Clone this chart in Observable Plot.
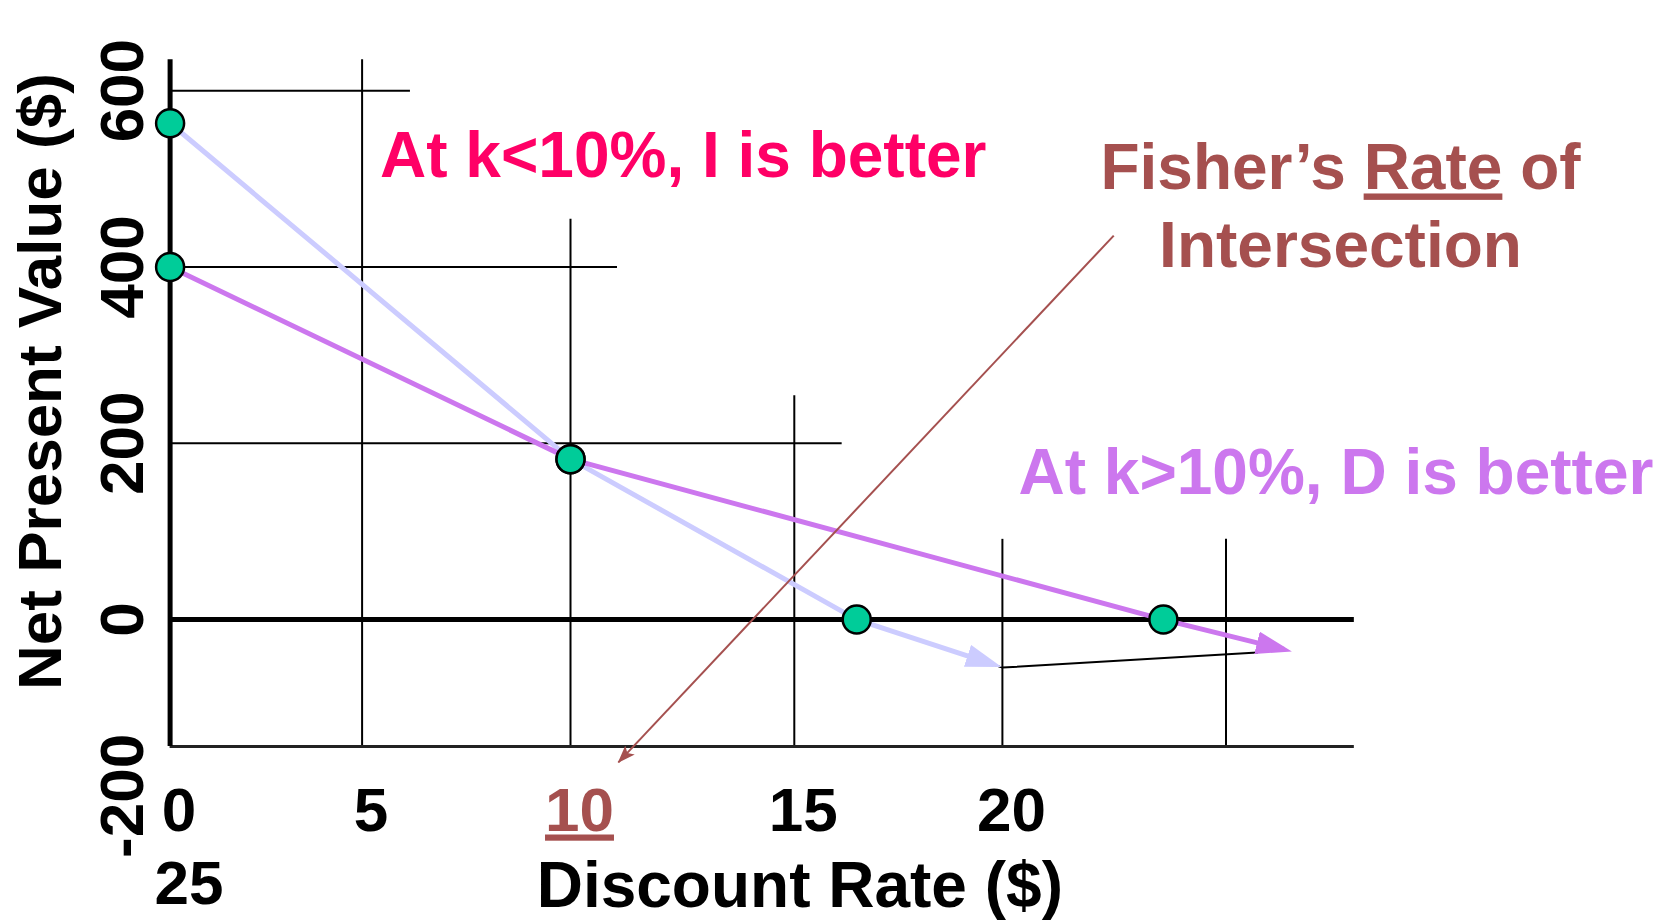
<!DOCTYPE html>
<html>
<head>
<meta charset="utf-8">
<script src="https://cdn.jsdelivr.net/npm/d3@7"></script>
<script src="https://cdn.jsdelivr.net/npm/@observablehq/plot@0.6"></script>
<style>
  html, body { margin: 0; padding: 0; background: #fff; }
  #chart svg { display: block; }
</style>
</head>
<body>
<div id="chart"></div>
<script>
// Discount rate (%) and NPV ($) tick values
const rateTicks = [0, 5, 10, 15, 20, 25];
const npvTicks = [600, 400, 200, 0, -200];
const fisherRate = 10;

// NPV profiles of the two projects; the last point is where each arrow ends
const projectIRate = [0, 10, 16.5, 19.8];
const projectINpv  = [563, 182, 0, -51];
const projectDRate = [0, 10, 23.6, 26.3];
const projectDNpv  = [400, 182, 0, -34];

// thin connector between the two IRR arrows
const linkRate = [16.5, 20, 25.7];
const linkNpv  = [0, -54.5, -37.4];

// partial gridlines: horizontal ones stop at gridYEnd, vertical ones start at gridXTop
const gridY = [600, 400, 200];
const gridYEnd = [6.16, 11.05, 16.15];
const gridX = [5, 10, 15, 20, 25];
const gridXTop = [635, 454, 254, 91, 91];

// extent of the axes
const npvMin = -144, npvMax = 635, rateMax = 27.87;

// pointer from the Fisher label down to the rate axis
const fisherPointerRate = [22.49, 11.07];
const fisherPointerNpv = [435.6, -162];

const colorI = "#ccccff";
const colorD = "#cc77ee";
const colorDot = "#00cc99";
const colorFisher = "#a5504f";
const colorLow = "#ff0066";
const font = "'Liberation Sans', Arial, Helvetica, sans-serif";

const rows = (xs, ys) => xs.map((x, i) => ({rate: x, npv: ys[i]}));
const lineI = rows(projectIRate, projectINpv);
const lineD = rows(projectDRate, projectDNpv);
const link = rows(linkRate, linkNpv);
const pointer = rows(fisherPointerRate, fisherPointerNpv);
const dots = [...lineI.slice(0, 3), ...lineD.slice(0, 3)];
const hGrid = gridY.map((y, i) => ({y, end: gridYEnd[i]}));
const vGrid = gridX.map((x, i) => ({x, top: gridXTop[i]}));

const bold = {fontFamily: font, fontWeight: "bold"};

const svg = Plot.plot({
  width: 1671,
  height: 920,
  marginLeft: 169.6,
  marginTop: 59.3,
  marginBottom: 174,
  marginRight: 20,
  style: {fontFamily: font, background: "#fff", overflow: "visible"},
  // piecewise linear rate axis
  x: {type: "linear", domain: rateTicks, range: [169.6, 361.6, 570, 793.8, 1001.9, 1225.5], axis: null},
  y: {type: "linear", domain: [npvMin, npvMax], axis: null},
  marks: [
    // gridlines
    Plot.ruleX(vGrid, {x: "x", y1: () => npvMin, y2: "top", stroke: "#000", strokeWidth: 2}),
    Plot.ruleY(hGrid, {y: "y", x1: () => 0, x2: "end", stroke: "#000", strokeWidth: 2}),
    // axes and the zero line
    Plot.ruleY([npvMin], {x1: () => 0, x2: () => rateMax, stroke: "#222", strokeWidth: 3}),
    Plot.ruleY([0], {x1: () => 0, x2: () => rateMax, stroke: "#000", strokeWidth: 5}),
    Plot.ruleX([0], {y1: () => npvMin, y2: () => npvMax, stroke: "#000", strokeWidth: 5}),
    // connector and NPV profiles
    Plot.line(link, {x: "rate", y: "npv", stroke: "#000", strokeWidth: 2}),
    Plot.line(lineI, {x: "rate", y: "npv", stroke: colorI, strokeWidth: 5, strokeLinecap: "butt"}),
    Plot.line(lineD, {x: "rate", y: "npv", stroke: colorD, strokeWidth: 5, strokeLinecap: "butt"}),
    Plot.line(pointer, {x: "rate", y: "npv", stroke: colorFisher, strokeWidth: 2, strokeLinecap: "butt"}),
    Plot.dot(dots, {x: "rate", y: "npv", r: 14, fill: colorDot, stroke: "#000", strokeWidth: 2.5}),

    // y tick labels, rotated
    Plot.text(npvTicks, {y: d => d, text: d => String(d), frameAnchor: "left", textAnchor: "middle",
      lineAnchor: "middle", dx: -47, rotate: -90, fontSize: 62, fill: "#000", ...bold}),
    // x tick labels; the last one wraps onto a second row
    Plot.text(rateTicks.slice(0, -1).filter(d => d !== fisherRate), {x: d => d, text: d => String(d),
      frameAnchor: "bottom", textAnchor: "middle", lineAnchor: "bottom", dy: 84, dx: 9,
      fontSize: 62, fill: "#000", ...bold}),
    Plot.text([fisherRate], {x: d => d, text: d => String(d),
      frameAnchor: "bottom", textAnchor: "middle", lineAnchor: "bottom", dy: 84, dx: 9,
      fontSize: 62, fill: colorFisher, ...bold}),
    Plot.text(rateTicks.slice(-1), {x: () => rateTicks[0], text: d => String(d),
      frameAnchor: "bottom", textAnchor: "middle", lineAnchor: "bottom", dy: 157, dx: 19,
      fontSize: 62, fill: "#000", ...bold}),

    // axis titles
    Plot.text(["Net Present Value ($)"], {frameAnchor: "left", textAnchor: "middle", lineAnchor: "middle",
      dx: -128.6, dy: -21.6, rotate: -90, fontSize: 62, fill: "#000", ...bold}),
    Plot.text(["Discount Rate ($)"], {frameAnchor: "bottom", textAnchor: "middle", lineAnchor: "bottom",
      dx: -111, dy: 160, fontSize: 64, fill: "#000", ...bold}),

    // annotations
    Plot.text(["At k<10%, I is better"], {x: () => 5.43, y: () => 501.8, textAnchor: "start", lineAnchor: "bottom",
      fontSize: 64, fill: colorLow, ...bold}),
    Plot.text(["At k>10%, D is better"], {x: () => 20.36, y: () => 142.7, textAnchor: "start", lineAnchor: "bottom",
      fontSize: 64, fill: colorD, ...bold}),
    Plot.text([["Fisher’s Rate of", 487.9], ["Intersection", 400.5]], {x: () => 27.56, y: d => d[1], text: d => d[0],
      textAnchor: "middle", lineAnchor: "bottom", fontSize: 64, fill: colorFisher, ...bold})
  ]
});

// filled arrowheads at the end of the NPV profiles and the Fisher pointer
const defs = d3.select(svg).insert("defs", ":first-child");
function arrowHead(id, color, path, w, h, refX) {
  defs.append("marker")
    .attr("id", id)
    .attr("viewBox", `0 0 ${w} ${h}`)
    .attr("markerWidth", w)
    .attr("markerHeight", h)
    .attr("refX", refX)
    .attr("refY", h / 2)
    .attr("orient", "auto")
    .attr("markerUnits", "userSpaceOnUse")
    .append("path")
    .attr("d", path)
    .attr("fill", color);
}
arrowHead("head-i", colorI, "M0,0L36,11.5L0,23Z", 36, 23, 28);
arrowHead("head-d", colorD, "M0,0L36,11.5L0,23Z", 36, 23, 28);
arrowHead("head-f", colorFisher, "M0,0L18,6.5L0,13L4,6.5Z", 18, 13, 17);
d3.select(svg).selectAll(`g[stroke="${colorI}"] path`).attr("marker-end", "url(#head-i)");
d3.select(svg).selectAll(`g[stroke="${colorD}"] path`).attr("marker-end", "url(#head-d)");
d3.select(svg).selectAll(`g[stroke="${colorFisher}"] path`).attr("marker-end", "url(#head-f)");

// underline the intersection rate and the word "Rate"
d3.select(svg).selectAll("text").each(function () {
  const t = this.textContent;
  if (t === String(fisherRate)) {
    this.setAttribute("text-decoration", "underline");
    this.style.textDecoration = "underline";
  } else if (t === "Fisher’s Rate of") {
    this.textContent = "";
    ["Fisher’s ", "Rate", " of"].forEach((s, i) => {
      const ts = document.createElementNS("http://www.w3.org/2000/svg", "tspan");
      ts.textContent = s;
      if (i === 1) {
        ts.setAttribute("text-decoration", "underline");
        ts.style.textDecoration = "underline";
      }
      this.appendChild(ts);
    });
  }
});

document.getElementById("chart").appendChild(svg);
</script>
</body>
</html>
